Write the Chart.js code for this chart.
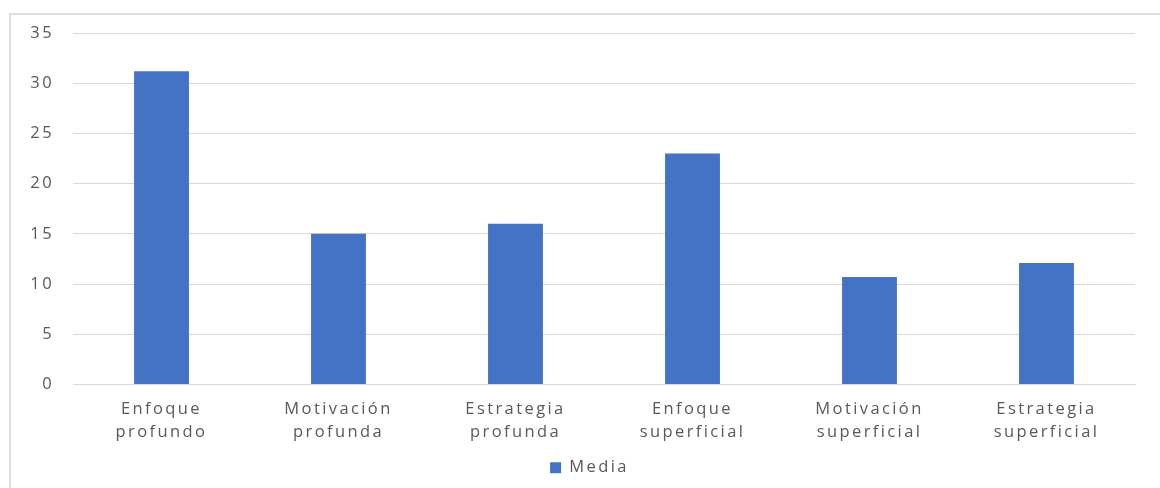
<!DOCTYPE html>
<html>
<head>
<meta charset="utf-8">
<script src="https://cdn.jsdelivr.net/npm/chart.js@4/dist/chart.umd.min.js"></script>
<style>
  html, body { margin: 0; padding: 0; background: #fff; }
  #wrap { position: relative; width: 1160px; height: 488px; overflow: hidden; }
  #frame { position: absolute; left: 9px; top: 13px; width: 1200px; height: 600px;
           border-left: 2px solid #dcdcdc; border-top: 2px solid #dcdcdc; box-sizing: border-box; }
  canvas { position: absolute; left: 0; top: 0; }
</style>
</head>
<body>
<div id="wrap">
  <div id="frame"></div>
  <canvas id="c" width="1160" height="488"></canvas>
</div>
<script>
// Mean scores per learning-approach scale
const categories = [
  ['Enfoque', 'profundo'],
  ['Motivación', 'profunda'],
  ['Estrategia', 'profunda'],
  ['Enfoque', 'superficial'],
  ['Motivación', 'superficial'],
  ['Estrategia', 'superficial']
];
const seriesName = 'Media';
const mediaValues = [31.2, 15.0, 16.0, 23.0, 10.7, 12.1];
const yTicks = [0, 5, 10, 15, 20, 25, 30, 35];

const textColor = '#595959';
const gridColor = '#d9d9d9';
const fontFamily = "'Open Sans', 'Noto Sans', sans-serif";
const tracking = '2.4px';

// Wide letter tracking for every label drawn on the canvas
const trackingPlugin = {
  id: 'tracking',
  beforeUpdate: chart => { chart.ctx.letterSpacing = tracking; },
  beforeDraw: chart => { chart.ctx.letterSpacing = tracking; }
};

// Nudge the legend so it sits slightly right of the canvas centre
const legendOffsetPlugin = {
  id: 'legendOffset',
  afterLayout: chart => {
    const lg = chart.legend;
    if (lg) { lg.left += 22; lg.right += 22; }
  }
};

new Chart(document.getElementById('c'), {
  type: 'bar',
  data: {
    labels: categories,
    datasets: [{
      label: seriesName,
      data: mediaValues,
      backgroundColor: '#4472C4',
      borderWidth: 0,
      categoryPercentage: 1,
      barPercentage: 0.31
    }]
  },
  plugins: [trackingPlugin, legendOffsetPlugin],
  options: {
    responsive: false,
    animation: false,
    layout: { padding: { left: 0, right: 25, top: 33, bottom: 2 } },
    plugins: {
      tooltip: { enabled: false },
      legend: {
        position: 'bottom',
        labels: {
          color: textColor,
          font: { family: fontFamily, size: 16.5 },
          boxWidth: 11,
          boxHeight: 11,
          padding: 10
        }
      }
    },
    scales: {
      x: {
        afterFit: s => { s.height = 65; },
        grid: { display: false, drawTicks: false },
        border: { color: gridColor, width: 1 },
        ticks: {
          color: textColor,
          font: { family: fontFamily, size: 16.5, lineHeight: 1.36 },
          padding: 14,
          maxRotation: 0,
          autoSkip: false
        }
      },
      y: {
        min: 0,
        max: 35,
        afterFit: s => { s.width = 73; },
        afterBuildTicks: s => { s.ticks = yTicks.map(v => ({ value: v })); },
        grid: { color: gridColor, lineWidth: 1, drawTicks: false },
        border: { display: false },
        ticks: {
          color: textColor,
          font: { family: fontFamily, size: 16.5 },
          padding: 19
        }
      }
    }
  }
});
</script>
</body>
</html>
